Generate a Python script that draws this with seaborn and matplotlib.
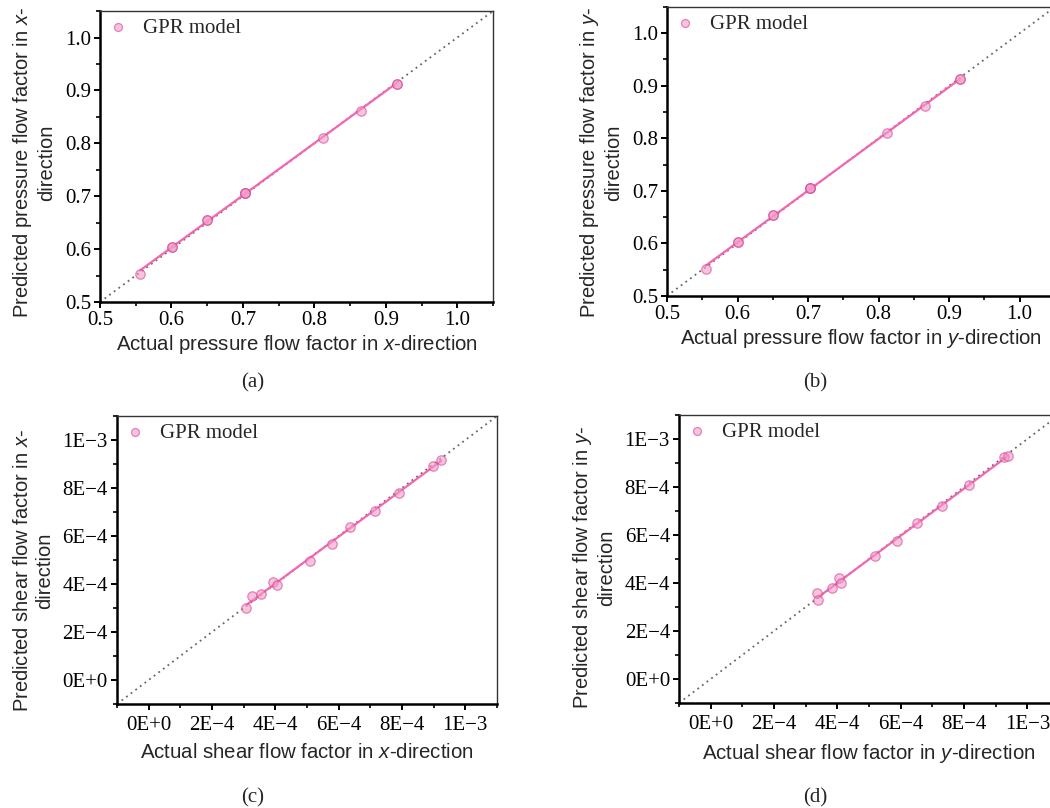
import numpy as np
import pandas as pd
import matplotlib
matplotlib.use("Agg")
import matplotlib.pyplot as plt
from matplotlib.ticker import FixedLocator, FixedFormatter, MultipleLocator
import seaborn as sns

sns.set_theme(style="ticks")
plt.rcParams['font.family'] = ['Liberation Serif', 'DejaVu Serif']
plt.rcParams['mathtext.fontset'] = 'custom'
plt.rcParams['mathtext.rm'] = 'Liberation Sans'
plt.rcParams['mathtext.it'] = 'Liberation Sans:italic'

# pressure flow factor, x-direction (a)
px_actual = [0.556, 0.6015, 0.6015, 0.650, 0.650, 0.703, 0.703, 0.703, 0.812, 0.8655, 0.915, 0.915]
px_pred = [0.553, 0.604, 0.604, 0.655, 0.655, 0.707, 0.707, 0.707, 0.811, 0.862, 0.913, 0.913]

# pressure flow factor, y-direction (b)
py_actual = [0.555, 0.601, 0.601, 0.6505, 0.6505, 0.703, 0.703, 0.703, 0.812, 0.866, 0.9155, 0.9155]
py_pred = [0.551, 0.603, 0.603, 0.654, 0.654, 0.706, 0.706, 0.706, 0.810, 0.861, 0.9125, 0.9125]

# shear flow factor, x-direction (c)
sx_actual = [3.08e-4, 3.25e-4, 3.55e-4, 3.93e-4, 4.06e-4, 5.08e-4, 5.79e-4, 6.37e-4,
             7.16e-4, 7.90e-4, 8.97e-4, 9.24e-4]
sx_pred = [3.00e-4, 3.50e-4, 3.57e-4, 4.10e-4, 3.97e-4, 4.98e-4, 5.68e-4, 6.39e-4,
           7.04e-4, 7.81e-4, 8.93e-4, 9.16e-4]

# shear flow factor, y-direction (d)
sy_actual = [3.36e-4, 3.38e-4, 3.82e-4, 4.05e-4, 4.13e-4, 5.20e-4, 5.87e-4, 6.50e-4,
             7.32e-4, 8.16e-4, 9.26e-4, 9.39e-4]
sy_pred = [3.57e-4, 3.30e-4, 3.80e-4, 4.19e-4, 4.00e-4, 5.12e-4, 5.75e-4, 6.50e-4,
           7.22e-4, 8.08e-4, 9.23e-4, 9.31e-4]

pressure_ticks = [0.5, 0.6, 0.7, 0.8, 0.9, 1.0]
pressure_labels = ['0.5', '0.6', '0.7', '0.8', '0.9', '1.0']
shear_ticks = [0, 2e-4, 4e-4, 6e-4, 8e-4, 1e-3]
shear_labels = ['0E+0', '2E\u22124', '4E\u22124', '6E\u22124', '8E\u22124', '1E\u22123']

fill_col = '#f29ccb'
edge_col = '#d2458f'
line_col = '#f266b3'

fig = plt.figure(figsize=(10.5, 8.08), dpi=100)

panels = [
    dict(rect=[0.0952, 0.6262, 0.3743, 0.3601], x=px_actual, y=px_pred, kind='p',
         xlabel='Actual pressure flow factor in $x$-direction',
         ylabel='Predicted pressure flow factor in $x$-\ndirection', ylab_y=0.478,
         tag='(a)', tagpos=(0.241, 0.5205)),
    dict(rect=[0.6352, 0.6337, 0.3695, 0.3577], x=py_actual, y=py_pred, kind='p',
         xlabel='Actual pressure flow factor in $y$-direction',
         ylabel='Predicted pressure flow factor in $y$-\ndirection', ylab_y=0.462,
         tag='(b)', tagpos=(0.776, 0.5205)),
    dict(rect=[0.1114, 0.1287, 0.3619, 0.3564], x=sx_actual, y=sx_pred, kind='s',
         xlabel='Actual shear flow factor in $x$-direction',
         ylabel='Predicted shear flow factor in $x$-\ndirection', ylab_y=0.462,
         tag='(c)', tagpos=(0.241, 0.0065)),
    dict(rect=[0.6467, 0.1300, 0.3619, 0.3564], x=sy_actual, y=sy_pred, kind='s',
         xlabel='Actual shear flow factor in $y$-direction',
         ylabel='Predicted shear flow factor in $y$-\ndirection', ylab_y=0.469,
         tag='(d)', tagpos=(0.776, 0.0065)),
]

for p in panels:
    ax = fig.add_axes(p['rect'])
    df = pd.DataFrame({'actual': p['x'], 'pred': p['y']})

    # y = x reference
    ax.axline((0, 0), (1, 1), color='#666666', linestyle=(0, (1, 2.2)), linewidth=1.3, zorder=1)

    sns.regplot(data=df, x='actual', y='pred', ax=ax, ci=None, scatter=False,
                line_kws=dict(color=line_col, linewidth=1.6, zorder=2))
    sns.scatterplot(data=df, x='actual', y='pred', ax=ax, s=46, color=fill_col,
                    edgecolor=edge_col, linewidth=0.9, alpha=0.6, label='GPR model', zorder=3)

    if p['kind'] == 'p':
        ax.set_xlim(0.5, 1.05)
        ax.set_ylim(0.5, 1.05)
        ax.xaxis.set_major_locator(FixedLocator(pressure_ticks))
        ax.xaxis.set_major_formatter(FixedFormatter(pressure_labels))
        ax.yaxis.set_major_locator(FixedLocator(pressure_ticks))
        ax.yaxis.set_major_formatter(FixedFormatter(pressure_labels))
        ax.xaxis.set_minor_locator(MultipleLocator(0.05))
        ax.yaxis.set_minor_locator(MultipleLocator(0.05))
        xpad, tpad = 2, 2
    else:
        ax.set_xlim(-1e-4, 1.1e-3)
        ax.set_ylim(-1e-4, 1.1e-3)
        ax.xaxis.set_major_locator(FixedLocator(shear_ticks))
        ax.xaxis.set_major_formatter(FixedFormatter(shear_labels))
        ax.yaxis.set_major_locator(FixedLocator(shear_ticks))
        ax.yaxis.set_major_formatter(FixedFormatter(shear_labels))
        ax.xaxis.set_minor_locator(MultipleLocator(1e-4))
        ax.yaxis.set_minor_locator(MultipleLocator(1e-4))
        xpad, tpad = 6, 4

    ax.tick_params(which='major', direction='out', length=4.5, width=1.4, labelsize=15,
                   colors='black', pad=2)
    ax.tick_params(axis='x', which='major', pad=tpad)
    ax.tick_params(which='minor', direction='out', length=3, width=1.2, colors='black')
    ax.tick_params(top=False, right=False, which='both')
    for side in ['left', 'bottom']:
        ax.spines[side].set_linewidth(1.8)
        ax.spines[side].set_color('black')
    for side in ['top', 'right']:
        ax.spines[side].set_linewidth(1.0)
        ax.spines[side].set_color('#333333')

    ax.set_xlabel(p['xlabel'], fontsize=14.7, family='Liberation Sans', labelpad=xpad)
    ax.set_ylabel(p['ylabel'], fontsize=14.5, family='Liberation Sans', labelpad=6,
                  linespacing=1.2)
    ax.yaxis.label.set_y(p['ylab_y'])

    ax.legend(loc='upper left', frameon=False, fontsize=15, handlelength=1.0,
              handletextpad=0.7, borderaxespad=0.0, borderpad=0.35, markerscale=0.85)

    fig.text(p['tagpos'][0], p['tagpos'][1], p['tag'], fontsize=15, ha='center')

fig.savefig('out.png', dpi=100)
